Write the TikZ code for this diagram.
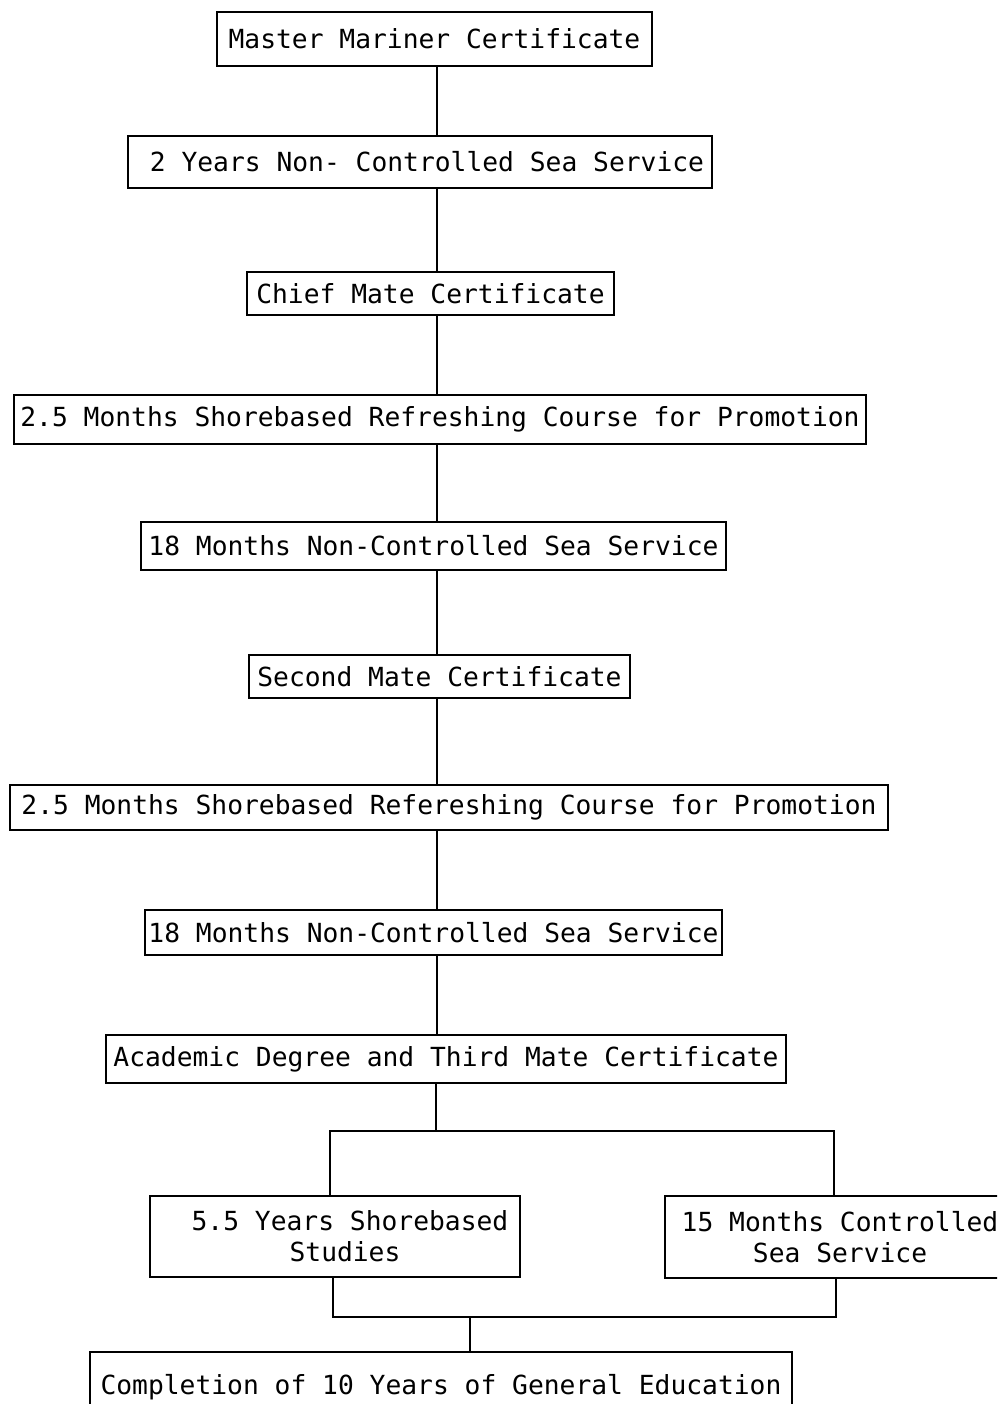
\documentclass[tikz,border=0pt]{standalone}
\usepackage{fontspec}
\setmonofont{DejaVu Sans Mono}
\begin{document}
\begin{tikzpicture}[x=1pt,y=-1pt,
  box/.style={draw, line width=2pt, inner sep=0pt, align=center,
    font=\ttfamily\fontsize{26.3}{31}\selectfont},
  conn/.style={line width=2pt}]
\useasboundingbox (0,0) rectangle (997,1404);
\clip (0,0) rectangle (997,1404);
\fill[white] (0,0) rectangle (997,1404);
\node[box, minimum width=435pt, minimum height=54pt] (m1) at (434.5,39) {Master Mariner Certificate};
\node[box, minimum width=584pt, minimum height=52pt] (m2) at (420,162) {\hspace*{14pt}2 Years Non- Controlled Sea Service};
\node[box, minimum width=367pt, minimum height=43pt] (m3) at (430.5,293.5) {Chief Mate Certificate};
\node[box, minimum width=852pt, minimum height=49pt] (m4) at (440,419.5) {2.5 Months Shorebased Refreshing Course for Promotion};
\node[box, minimum width=585pt, minimum height=48pt] (m5) at (433.5,546) {18 Months Non-Controlled Sea Service};
\node[box, minimum width=381pt, minimum height=43pt] (m6) at (439.5,676.5) {Second Mate Certificate};
\node[box, minimum width=878pt, minimum height=45pt] (m7) at (449,807.5) {2.5 Months Shorebased Refereshing Course for Promotion};
\node[box, minimum width=577pt, minimum height=45pt] (m8) at (433.5,932.5) {18 Months Non-Controlled Sea Service};
\node[box, minimum width=680pt, minimum height=48pt] (m9) at (446,1059) {Academic Degree and Third Mate Certificate};
\node[box, minimum width=370pt, minimum height=81pt] (s1) at (335,1236.5) {\hspace*{30pt}5.5 Years Shorebased\\\hspace*{20pt}Studies};
\node[box, minimum width=350pt, minimum height=82pt] (s2) at (840,1237) {15 Months Controlled\\Sea Service};
\node[box, minimum width=702pt, minimum height=70pt] (c) at (441,1387) {Completion of 10 Years of General Education};
\coordinate (spine) at (437,0);
\foreach \a/\b in {m1/m2,m2/m3,m3/m4,m4/m5,m5/m6,m6/m7,m7/m8,m8/m9}
  \draw[conn] (\a.south -| spine) -- (\b.north -| spine);
\coordinate (j1) at (436,1131);
\coordinate (la) at (330,1131);
\coordinate (ra) at (834,1131);
\draw[conn] (m9.south -| j1) -- (j1);
\draw[conn] (s1.north -| la) -- (la) -- (ra) -- (s2.north -| ra);
\coordinate (lb) at (333,1317);
\coordinate (rb) at (836,1317);
\coordinate (j2) at (470,1317);
\draw[conn] (s1.south -| lb) -- (lb) -- (rb) -- (s2.south -| rb);
\draw[conn] (j2) -- (c.north -| j2);
\end{tikzpicture}
\end{document}
